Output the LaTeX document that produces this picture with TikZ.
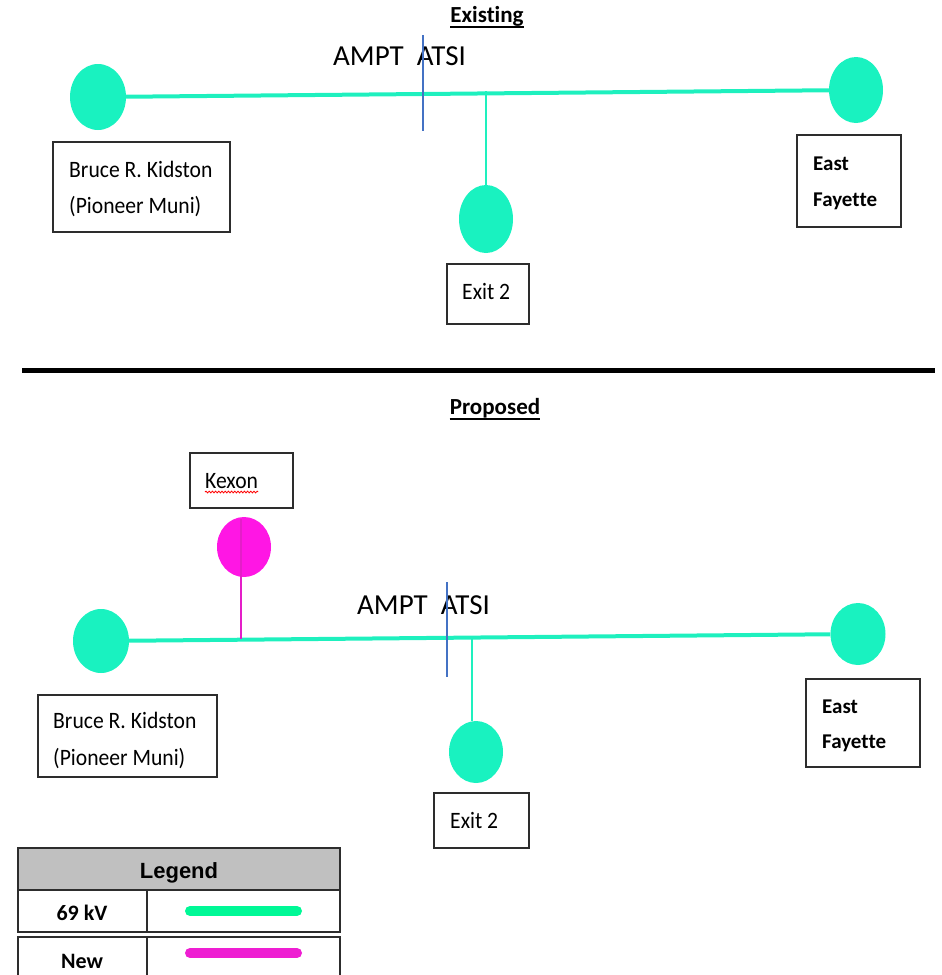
\documentclass[tikz,border=0pt]{standalone}
\usepackage{fontspec}
\setmainfont{Carlito}[Ligatures=NoCommon]
\newfontfamily\boxfont{Carlito}[FakeStretch=0.92, Ligatures=NoCommon]
\newfontfamily\legfont{Liberation Sans}
\usetikzlibrary{shapes.geometric,decorations.pathmorphing}
% keep t+i and t+t as separate letters
\newcommand{\nl}{\kern0pt}

\definecolor{feedgreen}{RGB}{30,240,190}
\definecolor{busgreen}{RGB}{25,242,192}
\definecolor{newmag}{RGB}{255,22,228}
\definecolor{tapmag}{RGB}{228,30,200}
\definecolor{seamblue}{RGB}{68,114,196}
\definecolor{boxgray}{RGB}{45,45,45}
\definecolor{headgray}{RGB}{192,192,192}
\definecolor{keygreen}{RGB}{0,248,150}
\definecolor{keymag}{RGB}{238,30,210}

\begin{document}
\begin{tikzpicture}[x=1pt,y=-1pt,
  sub/.style={ellipse, fill=busgreen, draw=none, inner sep=0pt},
  newsub/.style={sub, fill=newmag},
  feeder/.style={draw=feedgreen, line width=4pt},
  tap/.style={draw=feedgreen, line width=2.2pt},
  newtap/.style={draw=tapmag, line width=2.4pt},
  seam/.style={draw=seamblue, line width=1.6pt},
  lbox/.style={rectangle, draw=boxgray, line width=1.5pt, inner sep=0pt},
  lbl/.style={inner sep=0pt, anchor=base west, font=\boxfont\fontsize{23.5}{27}\selectfont},
  blbl/.style={inner sep=0pt, anchor=base west, font=\bfseries\fontsize{21}{25}\selectfont},
  area/.style={inner sep=0pt, anchor=base west, font=\fontsize{29}{33}\selectfont},
  title/.style={inner sep=0pt, anchor=base, font=\bfseries\fontsize{23}{27}\selectfont},
  keycell/.style={draw=boxgray, line width=2pt},
  keytxt/.style={inner sep=0pt, anchor=base, font=\bfseries\fontsize{22}{26}\selectfont},
  keybar/.style={line width=10pt, line cap=round}
]
\useasboundingbox (0,0) rectangle (942,975);

% ---------------- Existing ----------------
\node[title] (texist) at (487,22) {Exist\nl ing};
\draw[line width=1.5pt] ([yshift=-5pt]texist.base west) -- ([yshift=-5pt]texist.base east);

\node[area] (amp1) at (333,65) {AMPT\ \ ATSI};
\coordinate (b1t) at (423,35);
\coordinate (b1b) at (423,131);

\node[sub, minimum width=56pt, minimum height=66pt] (L1) at (98,97) {};
\node[sub, minimum width=54pt, minimum height=66pt] (R1) at (856,90) {};
\node[sub, minimum width=54pt, minimum height=68pt] (X1) at (486,219) {};

\draw[feeder] (L1) -- (R1);
\coordinate (j1) at (486,91);
\draw[tap] (j1) -- (X1);
\draw[seam] (b1t) -- (b1b);

\node[lbox, minimum width=177pt, minimum height=90pt] (bk1) at (141.5,187) {};
\node[lbl] (bk1a) at (69,177) {Bruce R. Kidston};
\node[lbl] (bk1b) at (69,213) {(Pioneer Muni)};

\node[lbox, minimum width=104pt, minimum height=92pt] (ef1) at (849,181) {};
\node[blbl] (ef1a) at (813,170) {East};
\node[blbl] (ef1b) at (813,206) {Fayet\nl te};

\node[lbox, minimum width=82pt, minimum height=60pt] (ex1) at (488,294) {};
\node[lbl] (ex1a) at (462,299) {Exit 2};

% ---------------- divider ----------------
\coordinate (dl) at (22,370);
\coordinate (dr) at (935,370);
\draw[line width=5pt] (dl) -- (dr);

% ---------------- Proposed ----------------
\node[title] (tprop) at (495,414) {Proposed};
\draw[line width=1.5pt] ([yshift=-5pt]tprop.base west) -- ([yshift=-5pt]tprop.base east);

\node[lbox, minimum width=103pt, minimum height=55pt] (kx) at (241.5,480.5) {};
\node[lbl] (kxa) at (205,488) {Kexon};
\draw[red, line width=0.8pt, decorate, decoration={snake, amplitude=0.9pt, segment length=3.2pt}]
  ([yshift=-4pt]kxa.base west) -- ([yshift=-4pt]kxa.base east);

\node[newsub, minimum width=54pt, minimum height=60pt] (K) at (244,547) {};

\node[area] (amp2) at (357,614) {AMPT\ \ ATSI};
\coordinate (b2t) at (447,582);
\coordinate (b2b) at (447,677);

\node[sub, minimum width=56pt, minimum height=64pt] (L2) at (101,641) {};
\node[sub, minimum width=55pt, minimum height=62pt] (R2) at (858,634) {};
\node[sub, minimum width=54pt, minimum height=62pt] (X2) at (476,752) {};

\draw[feeder] (L2) -- (R2);
\coordinate (j2) at (472,637);
\draw[tap] (j2) -- (j2 |- X2.north);
\coordinate (kt) at (241,519);
\coordinate (kj) at (241,639);
\draw[newtap] (kt) -- (kj);
\draw[seam] (b2t) -- (b2b);

\node[lbox, minimum width=179pt, minimum height=82pt] (bk2) at (127.5,736) {};
\node[lbl] (bk2a) at (53,728) {Bruce R. Kidston};
\node[lbl] (bk2b) at (53,765) {(Pioneer Muni)};

\node[lbox, minimum width=114pt, minimum height=88pt] (ef2) at (863,723) {};
\node[blbl] (ef2a) at (822,713) {East};
\node[blbl] (ef2b) at (822,748) {Fayet\nl te};

\node[lbox, minimum width=95pt, minimum height=55pt] (ex2) at (481.5,820.5) {};
\node[lbl] (ex2a) at (450,828) {Exit 2};

% ---------------- Legend ----------------
\filldraw[keycell, fill=headgray] (18,848) rectangle (340,890);
\node[keytxt, font=\legfont\bfseries\fontsize{22}{26}\selectfont] (lgh) at (179,878) {Legend};
\draw[keycell] (18,890) rectangle (340,932);
\draw[keycell] (147,890) -- (147,932);
\node[keytxt] (lg1) at (82,920) {69 kV};
\coordinate (k1a) at (190,911);
\coordinate (k1b) at (297,911);
\draw[keybar, keygreen] (k1a) -- (k1b);
\draw[keycell] (18,990) -- (18,937) -- (340,937) -- (340,990);
\draw[keycell] (147,937) -- (147,990);
\node[keytxt] (lg2) at (82,968) {New};
\coordinate (k2a) at (190,953);
\coordinate (k2b) at (297,953);
\draw[keybar, keymag] (k2a) -- (k2b);
\end{tikzpicture}
\end{document}
